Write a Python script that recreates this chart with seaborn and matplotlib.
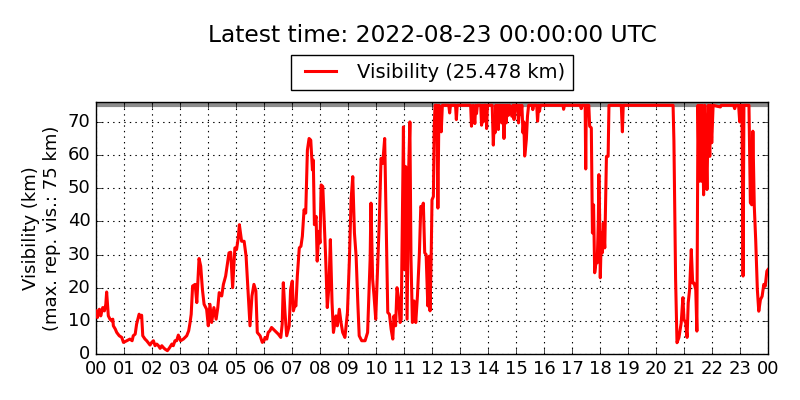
import matplotlib
matplotlib.use("Agg")
import matplotlib.pyplot as plt
import seaborn as sns
import pandas as pd

hours = [
    0.00, 0.05, 0.12, 0.17, 0.24, 0.30, 0.35, 0.38, 0.42, 0.44, 0.50, 0.56, 0.60, 0.62, 0.69, 0.74,
    0.83, 0.92, 0.98, 1.10, 1.21, 1.29, 1.33, 1.40, 1.45, 1.54, 1.60, 1.63, 1.67, 1.75, 1.81, 1.93,
    1.99, 2.05, 2.11, 2.17, 2.23, 2.29, 2.35, 2.40, 2.46, 2.55, 2.62, 2.71, 2.76, 2.82, 2.88, 2.94,
    3.02, 3.12, 3.24, 3.31, 3.36, 3.40, 3.45, 3.54, 3.60, 3.64, 3.68, 3.74, 3.80, 3.86, 3.95, 4.01,
    4.07, 4.13, 4.21, 4.29, 4.35, 4.40, 4.49, 4.55, 4.63, 4.69, 4.75, 4.81, 4.88, 4.96, 5.02, 5.08,
    5.12, 5.17, 5.20, 5.29, 5.36, 5.44, 5.50, 5.57, 5.64, 5.71, 5.76, 5.86, 5.94,
    6.00, 6.04, 6.10, 6.15, 6.21, 6.27, 6.33, 6.39, 6.45, 6.51, 6.60, 6.65, 6.69, 6.75, 6.81, 6.90,
    6.95, 7.01, 7.05, 7.11, 7.14, 7.19, 7.26, 7.32, 7.37, 7.43, 7.49, 7.55, 7.61, 7.67, 7.73, 7.76,
    7.80, 7.86, 7.90, 7.96, 8.00, 8.04, 8.10, 8.14, 8.20, 8.26, 8.32, 8.37, 8.43, 8.48, 8.57, 8.62,
    8.69, 8.75, 8.81, 8.89, 8.98, 9.05, 9.11, 9.17, 9.23, 9.29, 9.35, 9.40, 9.49, 9.61, 9.70, 9.79,
    9.82, 9.88, 9.93, 9.99, 10.05, 10.12, 10.18, 10.24, 10.31, 10.36, 10.42, 10.48, 10.54, 10.60,
    10.64, 10.70, 10.75, 10.81, 10.86, 10.90, 10.98, 11.01, 11.06, 11.11, 11.17, 11.21, 11.25, 11.30,
    11.36, 11.42, 11.48, 11.55, 11.60, 11.65, 11.69, 11.74, 11.79, 11.85, 11.90, 11.93, 11.97, 12.00,
    12.05, 12.08, 12.11, 12.17, 12.21, 12.25, 12.30, 12.33, 12.37,
    12.60, 12.63, 12.66, 12.84, 12.87, 12.90, 13.38, 13.41, 13.47, 13.53, 13.56, 13.59, 13.62, 13.74,
    13.77, 13.81, 13.83, 13.87, 13.93, 13.95, 13.98, 14.15, 14.19, 14.22, 14.25, 14.28, 14.31, 14.34,
    14.37, 14.40, 14.43, 14.46, 14.49, 14.53, 14.57, 14.61, 14.65, 14.69, 14.73, 14.77, 14.85, 14.89,
    14.93, 14.97, 15.05, 15.09, 15.13, 15.17, 15.21, 15.25, 15.28, 15.31, 15.34, 15.37, 15.41, 15.45,
    15.58, 15.60, 15.63, 15.74, 15.77, 15.81, 15.84, 15.87, 16.68, 16.70, 16.73, 17.30, 17.33, 17.36,
    17.47, 17.49, 17.51, 17.60, 17.63, 17.69, 17.73, 17.77, 17.81, 17.87, 17.90, 17.94, 17.96, 17.99,
    18.01, 18.05, 18.08, 18.12, 18.17, 18.23, 18.29, 18.32, 18.76, 18.80, 18.83, 20.61, 20.64, 20.70,
    20.75, 20.82, 20.90, 20.96, 21.00, 21.06, 21.11, 21.15, 21.20, 21.26, 21.31, 21.36, 21.42, 21.46,
    21.50, 21.54, 21.57, 21.62, 21.65, 21.70, 21.74, 21.77, 21.82, 21.87, 21.92, 21.95, 21.99, 22.04,
    22.30, 22.33, 22.77, 22.81, 22.85, 22.95, 22.99, 23.02, 23.07, 23.11, 23.14, 23.32, 23.37, 23.42,
    23.46, 23.51, 23.56, 23.62, 23.67, 23.73, 23.79, 23.85, 23.90, 23.96, 24.00,
]

vis = [
    13, 11, 13.5, 11.5, 14, 13, 15, 18.7, 14, 11.5, 10.5, 10, 10.5, 8.5, 7.5, 6.5,
    5.5, 5, 3.5, 4, 4.5, 4, 5.5, 6, 9, 12, 11, 11.7, 5.5, 4.5, 4, 2.7,
    3.5, 4, 2.5, 3, 2.5, 1.7, 2.5, 2, 1.5, 1, 1.8, 3, 2.5, 4, 4, 5.7,
    4, 4.5, 5.5, 7, 9.5, 12, 20.5, 21, 15.5, 22, 28.8, 26.5, 19.5, 15, 13.5, 8.5,
    15, 9.5, 14, 10.5, 14, 18.5, 17.5, 21, 23.5, 27, 30.5, 30.7, 20, 32, 31.5, 35,
    39, 36, 34, 34, 29.5, 17.5, 8.5, 17.5, 21, 19, 6.5, 5.5, 3.5,
    4, 5, 4.5, 6.5, 7, 8, 7.5, 7, 6.5, 6, 5, 9, 21.5, 12.5, 5.5, 8.5,
    19.5, 22, 13, 15, 14.5, 23.5, 32, 32.5, 35.5, 43.5, 42.5, 61.5, 65, 64.5, 55.5, 58.5,
    39, 41.5, 28, 37, 33.5, 51, 50.5, 42, 29.5, 14, 20.5, 34.5, 15.5, 6.5, 11.5, 8.5,
    13.5, 9.5, 6.5, 5, 12.5, 28.5, 46.5, 53.5, 36.5, 29.5, 15.5, 5.5, 4, 4, 6.5, 28.5,
    45.5, 22.5, 17.5, 10.5, 24.5, 40.5, 59, 57.5, 65, 41.5, 12.5, 12, 7.5, 4.5,
    11.5, 8.5, 20, 16.5, 9.5, 10.5, 68.5, 25.5, 56.5, 10.5, 56.5, 70, 28.5, 9.5,
    16, 9.5, 17.5, 30.5, 44.5, 44, 45.5, 30.5, 30, 14.5, 29.5, 13, 29, 46.5,
    47.5, 68.8, 75, 75, 44, 75, 70.8, 67, 75,
    75, 72.7, 75, 75, 70.7, 75, 75, 68.7, 75, 69.5, 75, 72.5, 75, 75,
    69, 75, 70, 75, 75, 68, 75, 75, 63, 70, 66.7, 75, 71.7, 75,
    67.7, 75, 73, 75, 69.7, 75, 65, 75, 69.7, 75, 72, 75, 71.7, 75,
    70.7, 75, 75, 69.7, 75, 72.2, 75, 66.7, 70, 59.7, 62, 64.7, 71.7, 75,
    75, 73.7, 75, 75, 70.2, 75, 73.2, 75, 75, 73.8, 75, 75, 74, 75,
    75, 55.8, 75, 75, 68.7, 68.2, 36.5, 45, 24.5, 28.5, 27.5, 40, 54.1, 40,
    23, 36.5, 30.5, 39.5, 32, 59.6, 59.6, 75, 75, 67, 75, 75, 64.2, 22.5,
    3.4, 5, 9.4, 17, 10.4, 9.4, 5, 15.4, 19.4, 31.5, 21.4, 21.4, 19.4, 6.9,
    75, 52.1, 75, 52.1, 75, 48, 75, 67.7, 49.6, 75, 59.6, 75, 63.7, 75,
    74.5, 75, 75, 74, 75, 75, 70, 75, 75, 23.5, 75, 75, 45.6, 45,
    67.2, 44.6, 34.5, 19.4, 12.9, 16.4, 17.4, 21, 20.4, 25, 25.478,
]

tick_hours = list(range(0, 25))
tick_labels = [f"{h % 24:02d}" for h in tick_hours]
y_ticks = [0, 10, 20, 30, 40, 50, 60, 70]
max_rep_vis = 75
title_text = "Latest time: 2022-08-23 00:00:00 UTC"

plt.style.use("classic")
plt.rcParams["font.family"] = ["DejaVu Sans"]

df = pd.DataFrame({"hour": hours, "vis": vis})

fig = plt.figure(figsize=(8, 4), dpi=100, facecolor="white")
ax = fig.add_axes([0.12, 0.115, 0.84, 0.63])
ax.set_facecolor("white")

ax.axhline(max_rep_vis, color="0.55", lw=3, zorder=1)
sns.lineplot(data=df, x="hour", y="vis", ax=ax, color="red", lw=2.2,
             estimator=None, sort=False, zorder=3,
             label=f"Visibility ({vis[-1]:.3f} km)")

ax.set_xlim(0, 24)
ax.set_ylim(0, 76)
ax.set_xticks(tick_hours)
ax.set_xticklabels(tick_labels)
ax.set_yticks(y_ticks)
ax.tick_params(labelsize=13, direction="in", top=True, right=True)
ax.grid(True, color="black", linestyle=":", linewidth=0.8)
ax.set_xlabel("")
ax.set_ylabel("Visibility (km)\n(max. rep. vis.: 75 km)", fontsize=13)

ax.legend(loc="center", bbox_to_anchor=(0.54, 0.819), bbox_transform=fig.transFigure,
          fontsize=14, fancybox=False, edgecolor="black", framealpha=1,
          handlelength=2.2, borderpad=0.4)
fig.text(0.54, 0.912, title_text, ha="center", va="center", fontsize=16.8)

fig.savefig("out.png", dpi=100, facecolor="white")
